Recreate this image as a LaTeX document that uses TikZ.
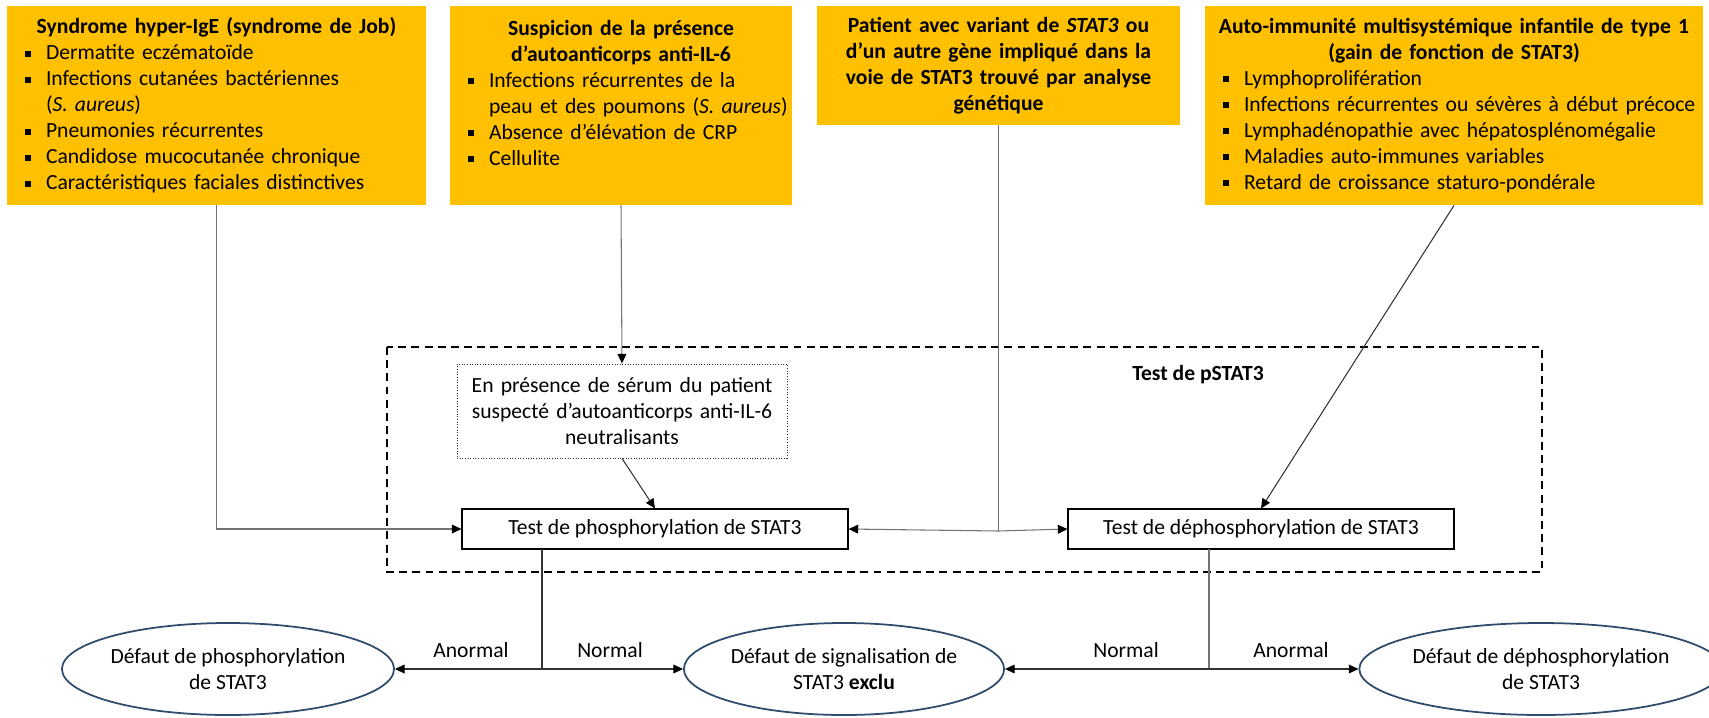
\documentclass[tikz,border=0pt]{standalone}
\usepackage{fontspec}
\setmainfont{Carlito}
\usetikzlibrary{arrows.meta}
\usetikzlibrary{shapes.geometric}

\definecolor{jaune}{HTML}{FFC000}
\definecolor{bleunuit}{HTML}{2F4B6B}
\newlength\unite
\setlength\unite{0.02cm}
% puce carree avec retrait suspendu
\newcommand{\puce}{\par\hangindent=39\unite\hangafter=1\noindent
  \hbox to 39\unite{\hskip 18\unite\raisebox{0.3ex}{\rule{6\unite}{6\unite}}\hfil}}

\tikzset{
  boite/.style={fill=jaune, inner sep=0pt, text width=#1, minimum width=#1, align=left},
  test/.style={draw, line width=0.6pt, minimum width=386\unite, minimum height=40\unite, inner sep=0pt},
  serumbox/.style={draw=black!80, densely dotted, line width=0.5pt, text width=330\unite,
    minimum height=94\unite, inner sep=0pt, align=center},
  issue/.style={ellipse, draw=bleunuit, line width=1pt, minimum width=316\unite,
    minimum height=92\unite, inner sep=0pt, align=center},
  lien/.style={draw=black!55, line width=0.6pt},
  lienb/.style={draw=black!80, line width=0.6pt},
  cadre/.style={line width=1.1pt, dash pattern=on 4.5pt off 3pt},
  etiq/.style={inner sep=1pt}
}

\begin{document}
\begin{tikzpicture}[x=0.02cm, y=-0.02cm, >={Triangle[length=5.5pt,width=5pt,color=black]},
  font=\fontsize{12.3}{14.8}\selectfont]
\useasboundingbox (0,0) rectangle (1709,717);

% cadre du test pSTAT3
\draw[cadre] (387,347) rectangle (1542,572);
\node[font=\fontsize{12.3}{14.8}\selectfont\bfseries] (pstat) at (1198,375) {Test de pSTAT3};

% boites du haut
\node[boite=419\unite, minimum height=199\unite] (job) at (216.5,105.5) {%
{\centering\bfseries Syndrome hyper-IgE (syndrome de Job)\par}
\puce Dermatite eczématoïde
\puce Infections cutanées bactériennes\newline(\textit{S. aureus})
\puce Pneumonies récurrentes
\puce Candidose mucocutanée chronique
\puce Caractéristiques faciales distinctives\par};

\node[boite=342\unite, minimum height=199\unite] (il6) at (621,105.5) {%
{\centering\bfseries Suspicion de la présence\\d’autoanticorps anti-IL-6\par}
\puce Infections récurrentes de la\newline peau et des poumons (\textit{S. aureus})
\puce Absence d’élévation de CRP
\puce Cellulite\par
\mbox{}\par};

\node[boite=363\unite, minimum height=119\unite, align=center, font=\fontsize{12.3}{14.8}\selectfont\bfseries] (patient) at (998.5,65.5)
  {Patient avec variant de \textit{STAT3} ou\\d’un autre gène impliqué dans la\\voie de STAT3 trouvé par analyse\\génétique};

\node[boite=498\unite, minimum height=199\unite] (aims) at (1454,105.5) {%
{\centering\bfseries Auto-immunité multisystémique infantile de type 1\\(gain de fonction de STAT3)\par}
\puce Lymphoprolifération
\puce Infections récurrentes ou sévères à début précoce
\puce Lymphadénopathie avec hépatosplénomégalie
\puce Maladies auto-immunes variables
\puce Retard de croissance staturo-pondérale\par};

% tests
\node[serumbox] (serum) at (622,411)
  {En présence de sérum du patient\\suspecté d’autoanticorps anti-IL-6\\neutralisants};
\node[test] (phos) at (655,529) {Test de phosphorylation de STAT3};
\node[test] (dephos) at (1261,529) {Test de déphosphorylation de STAT3};

% issues
\node[issue] (defphos) at (228,669) {Défaut de phosphorylation\\de STAT3};
\node[issue] (exclu) at (844,669) {Défaut de signalisation de\\STAT3 \textbf{exclu}};
\node[issue] (defdephos) at (1541,669) {Défaut de déphosphorylation\\de STAT3};

% liens du haut
\draw[lien,->] (job.south) |- (phos.west);
\draw[lien,->] (il6.south) -- (serum.north);
\draw[lienb,->] (serum.south) -- (phos.north);
\coordinate (jct) at (patient.south |- 0,531);
\draw[lien] (patient.south) -- (jct);
\draw[lien,->] (jct) -- (phos.east);
\draw[lien,->] (jct) -- (dephos.west);
\draw[lienb,->] (aims.south) -- (dephos.north);

% liens du bas
\coordinate (bphos) at (542,549);
\coordinate (nphos) at (bphos |- defphos.east);
\draw[lienb] (bphos) -- (nphos);
\draw[lienb,->] (nphos) -- (defphos.east);
\draw[lienb,->] (nphos) -- (exclu.west);
\node[etiq] (anormG) at (471,650) {Anormal};
\node[etiq] (normG) at (610,650) {Normal};

\coordinate (bdephos) at (1209,549);
\coordinate (ndephos) at (bdephos |- exclu.east);
\draw[lien] (bdephos) -- (ndephos);
\draw[lienb,->] (ndephos) -- (exclu.east);
\draw[lienb,->] (ndephos) -- (defdephos.west);
\node[etiq] (normD) at (1126,650) {Normal};
\node[etiq] (anormD) at (1291,650) {Anormal};
\end{tikzpicture}
\end{document}
